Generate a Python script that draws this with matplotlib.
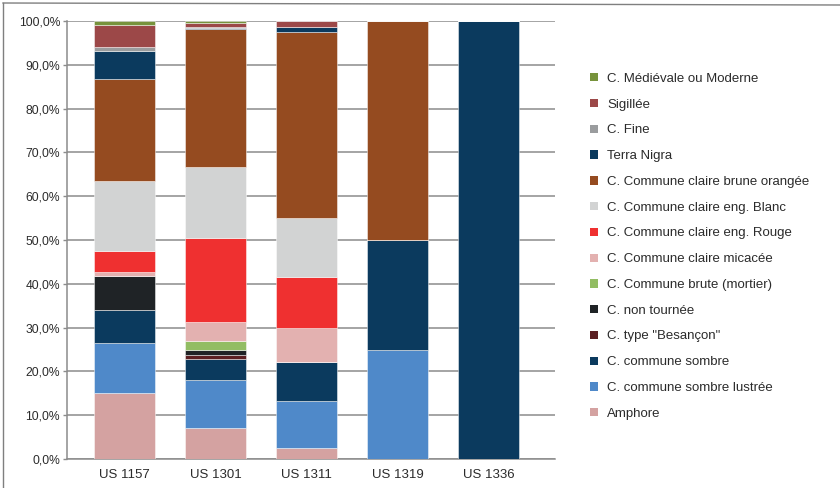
import matplotlib
matplotlib.use("Agg")
import matplotlib.pyplot as plt
from matplotlib import font_manager
from matplotlib.patches import Rectangle
from matplotlib.lines import Line2D
from matplotlib.ticker import MultipleLocator, FuncFormatter

# --- data (percent of sherds per stratigraphic unit) ---
units = ["US 1157", "US 1301", "US 1311", "US 1319", "US 1336"]

# stacking order: bottom -> top
categories = [
    "Amphore",
    "C. commune sombre lustrée",
    "C. commune sombre",
    'C. type "Besançon"',
    "C. non tournée",
    "C. Commune brute (mortier)",
    "C. Commune claire micacée",
    "C. Commune claire eng. Rouge",
    "C. Commune claire eng. Blanc",
    "C. Commune claire brune orangée",
    "Terra Nigra",
    "C. Fine",
    "Sigillée",
    "C. Médiévale ou Moderne",
]

amphore        = [15.0,  7.1,  2.4,  0.0,   0.0]
sombre_lustree = [11.5, 10.9, 10.8, 25.0,   0.0]
sombre         = [ 7.5,  4.9,  9.0, 25.0, 100.0]
besancon       = [ 0.0,  0.9,  0.0,  0.0,   0.0]
non_tournee    = [ 7.7,  1.1,  0.0,  0.0,   0.0]
brute          = [ 0.0,  2.0,  0.0,  0.0,   0.0]
micacee        = [ 0.9,  4.3,  7.8,  0.0,   0.0]
eng_rouge      = [ 4.9, 19.3, 11.5,  0.0,   0.0]
eng_blanc      = [16.0, 16.2, 13.5,  0.0,   0.0]
brune_orangee  = [23.2, 31.4, 42.4, 50.0,   0.0]
terra_nigra    = [ 6.5,  0.4,  1.2,  0.0,   0.0]
fine           = [ 0.9,  0.2,  0.0,  0.0,   0.0]
sigillee       = [ 4.9,  0.8,  1.4,  0.0,   0.0]
medievale      = [ 1.0,  0.5,  0.0,  0.0,   0.0]

series = [amphore, sombre_lustree, sombre, besancon, non_tournee, brute,
          micacee, eng_rouge, eng_blanc, brune_orangee, terra_nigra, fine,
          sigillee, medievale]

colors = [
    "#d4a2a1",  # Amphore
    "#4f89c9",  # sombre lustrée
    "#0b3a5e",  # sombre
    "#5b1f22",  # Besançon
    "#1f2326",  # non tournée
    "#92bd63",  # brute
    "#e3b1b0",  # micacée
    "#ef3030",  # eng. rouge
    "#d2d3d3",  # eng. blanc
    "#954b20",  # brune orangée
    "#0b3a5e",  # Terra Nigra
    "#9a9c9e",  # Fine
    "#9c4848",  # Sigillée
    "#77933c",  # Médiévale
]

# --- fonts ---
available = {f.name for f in font_manager.fontManager.ttflist}
if "Liberation Sans Narrow" in available:
    FONT = "Liberation Sans Narrow"
    scale = 1.0
else:
    FONT = "Liberation Sans"
    scale = 0.87
plt.rcParams["font.family"] = [FONT, "DejaVu Sans"]
TXT = "#2b2b2b"

W, H = 840, 488
fig = plt.figure(figsize=(W / 100, H / 100), dpi=100)

# axes geometry in pixels
x0, x1, ytop, ybot = 67, 555, 21, 459
ax = fig.add_axes([x0 / W, 1 - ybot / H, (x1 - x0) / W, (ybot - ytop) / H])

spacing = 91.0
first_center = 124.5
xs = list(range(len(units)))
ax.set_xlim((x0 - first_center) / spacing, (x1 - first_center) / spacing)
ax.set_ylim(0, 100)

bottoms = [0.0] * len(units)
for vals, col in zip(series, colors):
    ax.bar(xs, vals, bottom=bottoms, width=61 / spacing, color=col,
           edgecolor=(1, 1, 1, 0.55), linewidth=0.6, zorder=3)
    bottoms = [b + v for b, v in zip(bottoms, vals)]

# grid and spines
grid_col = "#8c8c8c"
ax.yaxis.set_major_locator(MultipleLocator(10))
ax.yaxis.set_major_formatter(FuncFormatter(lambda v, p: f"{v:.1f}%".replace(".", ",")))
ax.grid(axis="y", color=grid_col, linewidth=1.1, zorder=0)
ax.set_axisbelow(True)
for s in ("top", "right"):
    ax.spines[s].set_visible(False)
for s in ("left", "bottom"):
    ax.spines[s].set_color(grid_col)
    ax.spines[s].set_linewidth(1.1)
ax.tick_params(axis="y", length=3, width=1, color=grid_col, pad=2,
               labelsize=10 * scale, labelcolor=TXT)
ax.tick_params(axis="x", length=0, pad=7, labelsize=11 * scale, labelcolor=TXT)
ax.set_xticks(xs)
ax.set_xticklabels(units)

# legend (top entry = last stacked series)
leg_x, leg_y0, leg_dy, box = 590, 77.3, 25.77, 8.3
for i, (lab, col) in enumerate(zip(categories[::-1], colors[::-1])):
    yc = leg_y0 + i * leg_dy
    fig.add_artist(Rectangle((leg_x / W, 1 - (yc + box / 2) / H), box / W, box / H,
                             transform=fig.transFigure, facecolor=col,
                             edgecolor="none"))
    fig.text(607 / W, 1 - yc / H, lab, ha="left", va="center_baseline",
             fontsize=11 * scale, color=TXT)

# chart frame
fig.add_artist(Line2D([3 / W, 3 / W], [0, 1 - 3 / H], transform=fig.transFigure,
                      color="#7f7f7f", linewidth=1.0))
fig.add_artist(Line2D([3 / W, 1], [1 - 3 / H, 1 - 5 / H], transform=fig.transFigure,
                      color="#7f7f7f", linewidth=1.0))

fig.savefig("out.png", dpi=100)
